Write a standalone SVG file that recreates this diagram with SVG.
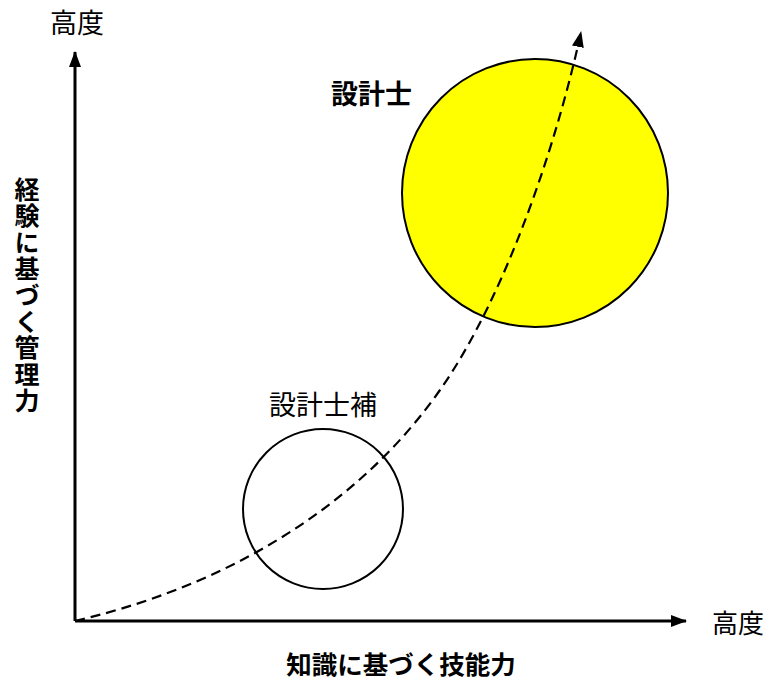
<svg xmlns="http://www.w3.org/2000/svg" width="768" height="681" viewBox="0 0 768 681">
<style>
.t{font-family:"Noto Sans CJK JP","Noto Sans CJK SC",sans-serif;fill:#000}
.b{font-weight:bold}
.axis{stroke:#000;stroke-width:3;fill:none}
.circ{stroke:#000;stroke-width:2}
</style>
<defs>
<marker id="ah" markerWidth="16" markerHeight="12" refX="15" refY="6" orient="auto" markerUnits="userSpaceOnUse">
<path d="M0,0 L16,6 L0,12 Z" fill="#000"/>
</marker>
</defs>
<rect width="768" height="681" fill="#fff"/>
<g id="connectors">
<line class="axis" x1="75" y1="621" x2="75" y2="52" marker-end="url(#ah)"/>
<line class="axis" x1="75" y1="621" x2="686" y2="621" marker-end="url(#ah)"/>
</g>
<g id="senior">
<ellipse class="circ" cx="535" cy="193" rx="133" ry="134" fill="#ffff00"/>
<text class="t b" x="331" y="104" font-size="27">設計士</text>
</g>
<g id="junior">
<circle class="circ" cx="323" cy="509" r="80" fill="#fff"/>
<text class="t" x="269" y="415" font-size="27">設計士補</text>
</g>
<g id="curve">
<path d="M75,621 C250,580 370,490 440,390 S560,130 581,32" fill="none" stroke="#000" stroke-width="2.2" stroke-dasharray="10,6" marker-end="url(#ah)"/>
</g>
<g id="labels">
<text class="t" x="77" y="33" font-size="27" text-anchor="middle">高度</text>
<text class="t" x="738" y="633" font-size="26" text-anchor="middle">高度</text>
<text class="t b" x="401" y="674" font-size="25.5" text-anchor="middle">知識に基づく技能力</text>
<text class="t b" x="27" y="177" font-size="25" text-anchor="start" writing-mode="vertical-rl" glyph-orientation-vertical="0" letter-spacing="1.4">経験に基づく管理力</text>
</g>
</svg>
